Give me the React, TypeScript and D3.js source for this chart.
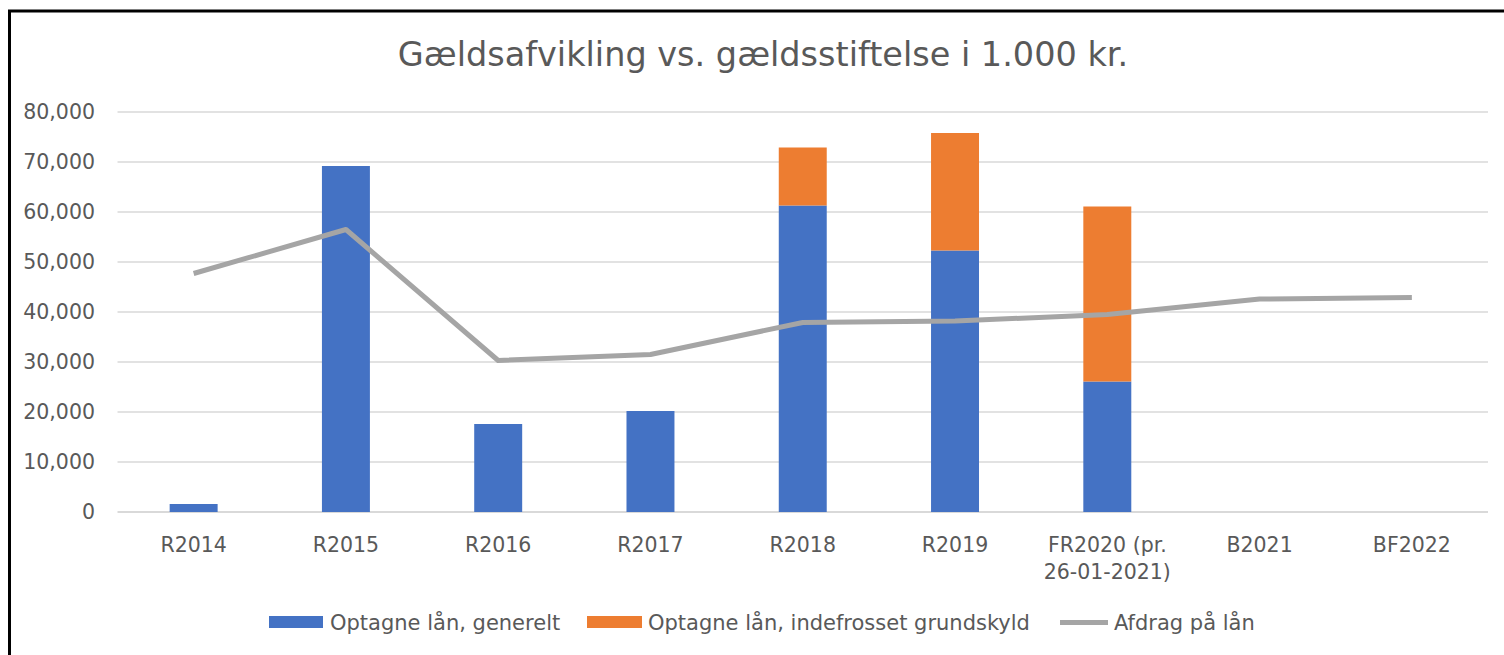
import * as d3 from "d3";

const categories = ["R2014", "R2015", "R2016", "R2017", "R2018", "R2019", "FR2020 (pr.|26-01-2021)", "B2021", "BF2022"];
const generelt = [1600, 69200, 17600, 20200, 61300, 52300, 26100, 0, 0];
const grundskyld = [0, 0, 0, 0, 11600, 23500, 35000, 0, 0];
const afdrag = [47700, 56500, 30300, 31500, 37900, 38200, 39500, 42600, 42900];
const yTicks = [0, 10000, 20000, 30000, 40000, 50000, 60000, 70000, 80000];

const FONT = "'DejaVu Sans', sans-serif";
const TEXT = "#595959";

const App = () => {
  const left = 117.5;
  const right = 1488;
  const x = d3.scaleBand().domain(categories).range([left, right]).padding(0);
  const y = d3.scaleLinear().domain([0, 80000]).range([512, 112]);
  const barW = x.bandwidth() * 0.315;
  const cx = (c: string) => (x(c) as number) + x.bandwidth() / 2;

  const line = d3
    .line<number>()
    .x((_, i) => cx(categories[i]))
    .y((d) => y(d));

  const fmt = d3.format(",");

  return (
    <svg width={1504} height={655} style={{ position: "absolute", left: 0, top: 0 }} fontFamily={FONT}>
      <rect x={0} y={0} width={1504} height={655} fill="#fff" />
      <rect x={9.5} y={11} width={1600} height={800} fill="none" stroke="#000" strokeWidth={3} />

      <text x={763} y={66} textAnchor="middle" fontSize={33.5} fill={TEXT}>
        Gældsafvikling vs. gældsstiftelse i 1.000 kr.
      </text>

      {/* gridlines + y labels */}
      {yTicks.map((t) => (
        <g key={t}>
          <line x1={left} x2={right} y1={y(t)} y2={y(t)} stroke="#d9d9d9" strokeWidth={t === 0 ? 2 : 1.5} />
          <text x={95} y={y(t)} dy="0.36em" textAnchor="end" fontSize={20.5} fill={TEXT}>
            {fmt(t)}
          </text>
        </g>
      ))}

      {/* stacked bars */}
      {categories.map((c, i) => (
        <g key={c}>
          {generelt[i] > 0 && (
            <rect x={cx(c) - barW / 2} y={y(generelt[i])} width={barW} height={y(0) - y(generelt[i])} fill="#4472C4" />
          )}
          {grundskyld[i] > 0 && (
            <rect
              x={cx(c) - barW / 2}
              y={y(generelt[i] + grundskyld[i])}
              width={barW}
              height={y(generelt[i]) - y(generelt[i] + grundskyld[i])}
              fill="#ED7D31"
            />
          )}
        </g>
      ))}

      <path d={line(afdrag) ?? ""} fill="none" stroke="#A5A5A5" strokeWidth={5} strokeLinejoin="round" />

      {/* x labels */}
      {categories.map((c) => (
        <text key={c} x={cx(c)} y={552} textAnchor="middle" fontSize={20.5} fill={TEXT}>
          {c.split("|").map((part, j) => (
            <tspan key={j} x={cx(c)} dy={j === 0 ? 0 : 27}>
              {part}
            </tspan>
          ))}
        </text>
      ))}

      {/* legend */}
      <g fontSize={21} fill={TEXT}>
        <rect x={269} y={616} width={54} height={12} fill="#4472C4" />
        <text x={330} y={630}>Optagne lån, generelt</text>
        <rect x={587} y={616} width={55} height={12} fill="#ED7D31" />
        <text x={648} y={630}>Optagne lån, indefrosset grundskyld</text>
        <line x1={1060} x2={1108} y1={622.5} y2={622.5} stroke="#A5A5A5" strokeWidth={5} />
        <text x={1114} y={630}>Afdrag på lån</text>
      </g>
    </svg>
  );
};

export default App;
